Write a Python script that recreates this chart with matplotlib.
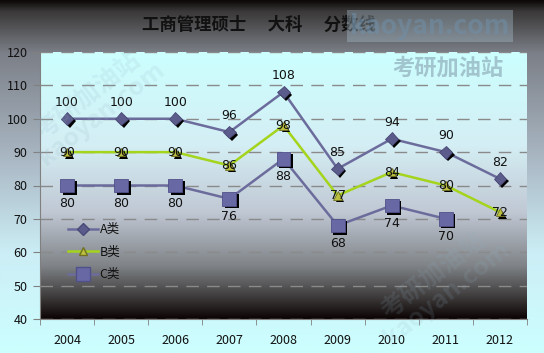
import numpy as np
import matplotlib
matplotlib.use("Agg")
import matplotlib.pyplot as plt
import matplotlib.patheffects as pe
from matplotlib.colors import LinearSegmentedColormap

plt.rcParams['font.family'] = ['Noto Sans CJK SC', 'DejaVu Sans']

years = ['2004', '2005', '2006', '2007', '2008', '2009', '2010', '2011', '2012']
a_vals = [100, 100, 100, 96, 108, 85, 94, 90, 82]
b_vals = [90, 90, 90, 86, 98, 77, 84, 80, 72]
c_vals = [80, 80, 80, 76, 88, 68, 74, 70, None]
series_names = ['A类', 'B类', 'C类']
title = '工商管理硕士　 大科　 分数线'

W, H = 544, 353
fig = plt.figure(figsize=(W / 100, H / 100), dpi=100)

# figure background gradient
bg = fig.add_axes([0, 0, 1, 1], zorder=-10)
bg.axis('off')
fcmap = LinearSegmentedColormap.from_list('f', [(0, '#0c0808'), (0.03, '#3a3838'), (0.15, '#7c8088'),
                                                (0.45, '#aab8c4'), (0.72, '#cceef6'), (1, '#ccffff')])
grad = np.linspace(0, 1, 256).reshape(-1, 1)
bg.imshow(grad, aspect='auto', cmap=fcmap, extent=[0, 1, 0, 1], origin='upper')
bg.set_xlim(0, 1); bg.set_ylim(0, 1)

left, right, top, bottom = 40, 527, 52, 319
ax = fig.add_axes([left / W, 1 - bottom / H, (right - left) / W, (bottom - top) / H])
x = np.arange(len(years))
ax.set_xlim(-0.5, len(years) - 0.5)
ax.set_ylim(40, 120)

pcmap = LinearSegmentedColormap.from_list('p', [(0, '#ccffff'), (0.35, '#d4eef4'), (0.6, '#c0c8d4'),
                                                (0.8, '#808488'), (0.93, '#383434'), (1, '#0c0404')])
ax.imshow(grad, aspect='auto', cmap=pcmap, extent=[-0.5, len(years) - 0.5, 40, 120],
          origin='upper', zorder=0)

ax.set_yticks(np.arange(40, 121, 10))
ax.yaxis.grid(True, color='#8a8a8a', linestyle=(0, (9, 6)), linewidth=1.0, zorder=1)
ax.set_axisbelow(False)
ax.set_xticks(x)
ax.set_xticklabels(years)
ax.set_xticks(np.arange(-0.5, len(years), 1), minor=True)
ax.tick_params(axis='x', which='major', length=0, pad=11, labelsize=9, labelcolor='#111111')
ax.tick_params(axis='x', which='minor', length=4, color='#808080', direction='out')
ax.tick_params(axis='y', which='major', length=5, color='#808080', labelsize=9, pad=4,
               labelcolor='#111111')
for s in ['top', 'right']:
    ax.spines[s].set_visible(False)
for s in ['left', 'bottom']:
    ax.spines[s].set_color('#808080')
    ax.spines[s].set_zorder(3)

shadow = [pe.SimplePatchShadow(offset=(1.8, -1.8), shadow_rgbFace='black', alpha=1.0), pe.Normal()]

def draw(vals, lc, mk, mfc, mec, ms, name, lw):
    xs = [xi for xi, v in zip(x, vals) if v is not None]
    ys = [v for v in vals if v is not None]
    ax.plot(xs, ys, color=lc, linewidth=lw, zorder=4)
    ax.plot(xs, ys, linestyle='none', marker=mk, markersize=ms, markerfacecolor=mfc,
            markeredgecolor=mec, markeredgewidth=0.6, zorder=5, path_effects=shadow)
    return ax.plot([], [], color=lc, linewidth=lw, marker=mk, markersize=ms,
                   markerfacecolor=mfc, markeredgecolor=mec, label=name)[0]

h1 = draw(a_vals, '#6c6c9c', 'D', '#5c5c8c', '#4a4a78', 6.5, series_names[0], 1.8)
h2 = draw(b_vals, '#a4d41c', '^', '#bcc040', '#707020', 6, series_names[1], 1.8)
h3 = draw(c_vals, '#6c6c9c', 's', '#6868a4', '#50508a', 10, series_names[2], 1.8)

for xi, v in zip(x, a_vals):
    ax.annotate(str(v), (xi, v), xytext=(0, 12), textcoords='offset points', ha='center',
                va='center', fontsize=9, color='#111111', family='DejaVu Sans', zorder=6)
for xi, v in zip(x, b_vals):
    ax.annotate(str(v), (xi, v), xytext=(0, 0), textcoords='offset points', ha='center',
                va='center', fontsize=9, color='#111111', family='DejaVu Sans', zorder=6)
for xi, v in zip(x, c_vals):
    if v is None:
        continue
    ax.annotate(str(v), (xi, v), xytext=(0, -13), textcoords='offset points', ha='center',
                va='center', fontsize=9, color='#111111', family='DejaVu Sans', zorder=6)

leg = ax.legend(handles=[h1, h2, h3], loc='lower left', bbox_to_anchor=(0.035, 0.1),
                frameon=False, fontsize=9, handlelength=2.4, handletextpad=0.1,
                labelspacing=0.75)
for t in leg.get_texts():
    t.set_color('#111111')

fig.text(259 / W, 1 - 25 / H, title, ha='center', va='center', fontsize=12.5,
         fontweight='semibold', color='#111111')

# watermarks
fig.text(430 / W, 1 - 26 / H, 'kaoyan.com', ha='center', va='center', fontsize=19,
         fontweight='bold', color='#6f8fa8', alpha=0.55,
         bbox=dict(boxstyle='square,pad=0.1', fc='#b0c8d8', ec='none', alpha=0.35))
fig.text(448 / W, 1 - 68 / H, '考研加油站', ha='center', va='center', fontsize=16,
         fontweight='bold', color='#7f98a8', alpha=0.55)
fig.text(95 / W, 1 - 105 / H, '考研加油站\nkaoyan.com', ha='center', va='center', fontsize=18,
         fontweight='bold', color='#8fb0c0', alpha=0.15, rotation=38, linespacing=0.9)
fig.text(440 / W, 1 - 285 / H, '考研加油站\nkaoyan.com', ha='center', va='center', fontsize=18,
         fontweight='bold', color='#8fb0c0', alpha=0.15, rotation=38, linespacing=0.9)

fig.savefig('out.png', dpi=100)
